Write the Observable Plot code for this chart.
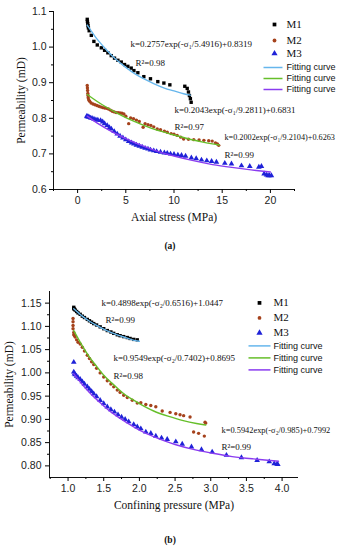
<!DOCTYPE html>
<html><head><meta charset="utf-8">
<script src="https://cdn.jsdelivr.net/npm/d3@7"></script>
<script src="https://cdn.jsdelivr.net/npm/@observablehq/plot@0.6"></script>
<style>
body{margin:0;background:#fff;}
#wrap{position:relative;width:342px;height:550px;overflow:hidden;background:#fff;}
#pa{position:absolute;left:0;top:0;}
#pb{position:absolute;left:0;top:262px;}
.cap{position:absolute;left:0;width:340px;text-align:center;font:bold 9.5px "Liberation Serif","Times New Roman",serif;color:#111;}
</style></head><body>
<div id="wrap">
  <div id="pa"></div>
  <div class="cap" style="top:241px">(a)</div>
  <div id="pb"></div>
  <div class="cap" style="top:535px">(b)</div>
</div>
<script>
// ---------- labels ----------
const seriesNames = ["M1", "M2", "M3"];
const fitName = "Fitting curve";
const yLabel = "Permeability (mD)";
const xLabelA = "Axial stress (MPa)";
const xLabelB = "Confining pressure (MPa)";
const notesA = ["k=0.2757exp(-σ₁/5.4916)+0.8319", "R²=0.98", "k=0.2043exp(-σ₁/9.2811)+0.6831", "R²=0.97", "k=0.2002exp(-σ₁/9.2104)+0.6263", "R²=0.99"];
const notesB = ["k=0.4898exp(-σ₂/0.6516)+1.0447", "R²=0.99", "k=0.9549exp(-σ₂/0.7402)+0.8695", "R²=0.98", "k=0.5942exp(-σ₂/0.985)+0.7992", "R²=0.99"];

// ---------- ticks ----------
const xTicksA = [0, 5, 10, 15, 20];
const xMinorA = [-2.5, 2.5, 7.5, 12.5, 17.5, 22.5];
const yTicksA = [0.6, 0.7, 0.8, 0.9, 1.0, 1.1];
const yMinorA = [0.65, 0.75, 0.85, 0.95, 1.05];
const xTicksB = [1.0, 1.5, 2.0, 2.5, 3.0, 3.5, 4.0];
const xMinorB = [0.75, 1.25, 1.75, 2.25, 2.75, 3.25, 3.75];
const yTicksB = [0.80, 0.85, 0.90, 0.95, 1.00, 1.05, 1.10, 1.15];
const yMinorB = [0.825, 0.875, 0.925, 0.975, 1.025, 1.075, 1.125];

// ---------- panel (a): axial stress ----------
const aM1x = [1.0, 1.02, 1.05, 1.08, 1.12, 1.2, 1.42, 1.69, 2.04, 2.46, 2.80, 3.14, 3.49, 3.83, 4.18, 4.53, 4.87, 5.21, 5.56, 5.84, 6.25, 6.87, 7.56, 8.32, 8.95, 9.57, 11.12, 11.37, 11.5, 11.6, 11.7, 11.78];
const aM1y = [1.078, 1.072, 1.066, 1.060, 1.054, 1.046, 1.033, 1.016, 1.006, 0.998, 0.991, 0.984, 0.976, 0.969, 0.963, 0.958, 0.951, 0.946, 0.941, 0.934, 0.928, 0.917, 0.911, 0.903, 0.899, 0.894, 0.890, 0.884, 0.874, 0.864, 0.855, 0.845];
const aM2x = [1.0, 1.02, 1.04, 1.06, 1.08, 1.1, 1.15, 1.25, 1.4, 1.6, 1.8, 2.0, 2.2, 2.4, 2.6, 2.8, 3.0, 3.2, 3.4, 3.6, 3.8, 4.0, 4.2, 4.4, 4.6, 4.8, 5.0, 5.3, 5.5, 5.8, 6.1, 6.4, 6.8, 7.0, 7.3, 7.6, 7.9, 8.26, 8.6, 9.0, 9.3, 9.7, 10.0, 10.33, 10.7, 11.0, 11.5, 12.05, 12.6, 13.1, 13.6, 13.96, 14.3, 14.5, 14.64];
const aM2y = [0.892, 0.885, 0.878, 0.870, 0.864, 0.858, 0.852, 0.848, 0.843, 0.840, 0.838, 0.836, 0.834, 0.832, 0.830, 0.829, 0.828, 0.826, 0.823, 0.820, 0.818, 0.816, 0.816, 0.815, 0.814, 0.812, 0.806, 0.785, 0.801, 0.799, 0.795, 0.791, 0.775, 0.785, 0.782, 0.780, 0.776, 0.770, 0.768, 0.764, 0.761, 0.757, 0.755, 0.752, 0.747, 0.742, 0.741, 0.740, 0.739, 0.738, 0.737, 0.736, 0.731, 0.728, 0.724];
const aM3x = [0.95, 1.0, 1.1, 1.2, 1.35, 1.5, 1.7, 1.9, 2.1, 2.38, 2.6, 2.8, 3.07, 3.3, 3.5, 3.8, 4.11, 4.4, 4.7, 5.0, 5.3, 5.6, 5.84, 6.1, 6.4, 6.7, 7.0, 7.3, 7.56, 7.9, 8.2, 8.6, 9.0, 9.3, 9.64, 10.0, 10.4, 10.78, 11.2, 11.8, 12.3, 12.85, 13.4, 13.9, 14.4, 15.27, 15.96, 17.0, 17.86, 18.8, 19.07, 19.35, 19.6, 19.76, 19.9, 20.1];
const aM3y = [0.806, 0.805, 0.804, 0.803, 0.801, 0.800, 0.798, 0.796, 0.795, 0.794, 0.790, 0.785, 0.780, 0.774, 0.770, 0.763, 0.756, 0.750, 0.745, 0.740, 0.735, 0.731, 0.728, 0.725, 0.722, 0.719, 0.716, 0.714, 0.711, 0.709, 0.707, 0.705, 0.703, 0.702, 0.700, 0.699, 0.697, 0.696, 0.694, 0.689, 0.687, 0.683, 0.681, 0.679, 0.677, 0.674, 0.672, 0.667, 0.665, 0.663, 0.665, 0.644, 0.641, 0.639, 0.639, 0.639];
const aFit1x = [1.0, 1.5, 2, 3, 4, 5, 6, 7, 8, 9, 10, 11, 11.7];
const aFit1y = [1.062, 1.042, 1.023, 0.992, 0.965, 0.943, 0.924, 0.909, 0.896, 0.885, 0.877, 0.869, 0.865];
const aFit2x = [1, 2, 3, 4, 5, 6, 7, 8, 9, 10, 11, 12, 13, 14, 14.7];
const aFit2y = [0.867, 0.848, 0.831, 0.816, 0.802, 0.790, 0.779, 0.769, 0.761, 0.753, 0.746, 0.739, 0.733, 0.728, 0.725];
const aFit3x = [1, 2, 3, 4, 5, 6, 8, 10, 12, 14, 16, 18, 20];
const aFit3y = [0.806, 0.787, 0.771, 0.756, 0.743, 0.731, 0.710, 0.694, 0.681, 0.670, 0.662, 0.655, 0.649];

// ---------- panel (b): confining pressure ----------
const bM1x = [1.08, 1.08, 1.09, 1.10, 1.12, 1.14, 1.17, 1.20, 1.23, 1.27, 1.30, 1.33, 1.36, 1.40, 1.45, 1.50, 1.55, 1.60, 1.64, 1.69, 1.73, 1.78, 1.83, 1.87, 1.92, 1.97];
const bM1y = [1.141, 1.138, 1.137, 1.135, 1.132, 1.129, 1.126, 1.122, 1.119, 1.115, 1.112, 1.109, 1.106, 1.103, 1.099, 1.095, 1.091, 1.088, 1.085, 1.082, 1.080, 1.078, 1.076, 1.074, 1.072, 1.071];
const bM2x = [1.07, 1.07, 1.07, 1.07, 1.08, 1.08, 1.09, 1.10, 1.12, 1.14, 1.17, 1.20, 1.23, 1.27, 1.30, 1.33, 1.36, 1.40, 1.45, 1.50, 1.55, 1.60, 1.64, 1.69, 1.73, 1.78, 1.83, 1.90, 1.97, 2.02, 2.09, 2.16, 2.23, 2.32, 2.43, 2.51, 2.57, 2.62, 2.71, 2.76, 2.83, 2.91, 2.92, 2.93];
const bM2y = [1.117, 1.110, 1.102, 1.095, 1.087, 1.082, 1.080, 1.077, 1.071, 1.066, 1.062, 1.055, 1.047, 1.038, 1.031, 1.024, 1.018, 1.010, 1.000, 0.991, 0.983, 0.976, 0.970, 0.963, 0.958, 0.952, 0.947, 0.941, 0.935, 0.936, 0.932, 0.930, 0.927, 0.918, 0.915, 0.912, 0.910, 0.908, 0.905, 0.873, 0.870, 0.864, 0.894, 0.892];
const bM3x = [1.08, 1.08, 1.09, 1.10, 1.12, 1.14, 1.17, 1.20, 1.23, 1.27, 1.30, 1.33, 1.36, 1.40, 1.45, 1.50, 1.55, 1.60, 1.65, 1.70, 1.75, 1.80, 1.85, 1.92, 1.97, 2.02, 2.09, 2.16, 2.23, 2.31, 2.39, 2.51, 2.60, 2.73, 2.87, 3.02, 3.22, 3.43, 3.65, 3.82, 3.89, 3.93, 3.94];
const bM3y = [1.023, 1.002, 0.998, 0.996, 0.993, 0.990, 0.986, 0.981, 0.976, 0.970, 0.965, 0.960, 0.955, 0.949, 0.941, 0.934, 0.927, 0.921, 0.916, 0.910, 0.905, 0.900, 0.895, 0.889, 0.884, 0.880, 0.873, 0.870, 0.864, 0.860, 0.857, 0.852, 0.847, 0.841, 0.835, 0.830, 0.823, 0.818, 0.812, 0.809, 0.805, 0.804, 0.803];
const bFit1x = [1.08, 1.2, 1.3, 1.4, 1.5, 1.6, 1.7, 1.8, 1.9, 2.0];
const bFit1y = [1.138, 1.122, 1.111, 1.102, 1.094, 1.087, 1.081, 1.076, 1.071, 1.068];
const bFit2x = [1.08, 1.2, 1.3, 1.4, 1.5, 1.6, 1.7, 1.8, 1.9, 2.0, 2.2, 2.4, 2.6, 2.8, 2.93];
const bFit2y = [1.091, 1.058, 1.034, 1.014, 0.995, 0.980, 0.966, 0.953, 0.943, 0.934, 0.918, 0.907, 0.898, 0.891, 0.888];
const bFit3x = [1.08, 1.2, 1.3, 1.4, 1.5, 1.6, 1.8, 2.0, 2.2, 2.5, 2.8, 3.0, 3.3, 3.6, 3.95];
const bFit3y = [0.998, 0.975, 0.958, 0.943, 0.929, 0.916, 0.895, 0.877, 0.863, 0.846, 0.834, 0.828, 0.820, 0.815, 0.810];

// ---------- styling ----------
const dotColors = ["#000000", "#a5421c", "#1f22d8"];
const dotSymbols = ["square", "circle", "triangle"];
const dotR = [1.9, 1.7, 2.1];
const fitColors = ["#66b6ec", "#66bf2a", "#8a3cf0"];
const serif = "'Liberation Serif','Times New Roman',serif";
const sans = "'Liberation Sans',Arial,sans-serif";

const zip = (xs, ys) => xs.map((x, i) => ({x, y: ys[i]}));
const lineSym = (hw) => ({draw(ctx) { ctx.moveTo(-hw, 0); ctx.lineTo(hw, 0); }});

function panel(o) {
  const marks = [
    Plot.ruleX([o.xDomain[0]], {stroke: "#111", strokeWidth: 1}),
    Plot.ruleY([o.yDomain[0]], {stroke: "#111", strokeWidth: 1}),
    Plot.axisX({ticks: o.xTicks, tickSize: 4, tickPadding: 3, tickFormat: o.fx, label: null, fontSize: 10.5, fill: "#222"}),
    Plot.axisX({ticks: o.xMinor, tickSize: 2, tickFormat: () => "", label: null}),
    Plot.axisY({ticks: o.yTicks, tickSize: 4, tickPadding: o.yPad, tickFormat: o.fy, label: null, fontSize: 10.5, fill: "#222"}),
    Plot.axisY({ticks: o.yMinor, tickSize: 2, tickFormat: () => "", label: null})
  ];
  o.series.forEach((s, i) => {
    marks.push(Plot.dot(s, {x: "x", y: "y", symbol: dotSymbols[i], r: dotR[i], fill: dotColors[i], stroke: "none"}));
  });
  o.fits.forEach((f, i) => {
    marks.push(Plot.line(f, {x: "x", y: "y", stroke: fitColors[i], strokeWidth: 1.4, curve: "natural"}));
  });
  // annotations
  o.notes.forEach((t, i) => {
    const p = o.notePos[i];
    marks.push(Plot.text([t], {text: d => d, frameAnchor: "top-left", dx: p[0], dy: p[1], textAnchor: "start", lineAnchor: "middle", fontFamily: serif, fontSize: p[2] || 9, fill: "#111"}));
  });
  // legend
  seriesNames.forEach((n, i) => {
    const L = o.leg;
    marks.push(Plot.dot([0], {frameAnchor: "top-right", dx: L.mx, dy: L.sy[i], symbol: dotSymbols[i], r: dotR[i] + 0.2, fill: dotColors[i], stroke: "none"}));
    marks.push(Plot.text([n], {text: d => d, frameAnchor: "top-right", dx: L.tx, dy: L.sy[i], textAnchor: "start", lineAnchor: "middle", fontFamily: serif, fontSize: 11, fill: "#111"}));
    marks.push(Plot.dot([0], {frameAnchor: "top-right", dx: L.lx, dy: L.fy[i], symbol: lineSym(L.hw), r: 3, fill: "none", stroke: fitColors[i], strokeWidth: 1.5}));
    marks.push(Plot.text([fitName], {text: d => d, frameAnchor: "top-right", dx: L.tx, dy: L.fy[i], textAnchor: "start", lineAnchor: "middle", fontFamily: sans, fontSize: 9, fill: "#111"}));
  });
  // axis titles
  marks.push(Plot.text([o.xLabel], {text: d => d, frameAnchor: "bottom", dy: 28, lineAnchor: "middle", fontFamily: serif, fontSize: 11.5, fill: "#111"}));
  marks.push(Plot.text([yLabel], {text: d => d, frameAnchor: "left", dx: o.yLabDx, rotate: -90, lineAnchor: "middle", textAnchor: "middle", fontFamily: serif, fontSize: 11.5, fill: "#111"}));

  return Plot.plot({
    width: 342, height: o.height,
    marginLeft: o.ml, marginRight: o.mr, marginTop: o.mt, marginBottom: o.mb,
    style: {fontFamily: sans, fontSize: "10px", background: "white", overflow: "visible"},
    x: {domain: o.xDomain, axis: null},
    y: {domain: o.yDomain, axis: null},
    marks
  });
}

const svgA = panel({
  height: 232, ml: 53, mr: 48, mt: 11, mb: 43,
  xDomain: [-2.5, 22.5], yDomain: [0.6, 1.1],
  xTicks: xTicksA, xMinor: xMinorA, yTicks: yTicksA, yMinor: yMinorA,
  fx: d3.format("d"), fy: d3.format(".1f"), yPad: 3,
  xLabel: xLabelA, yLabDx: -32,
  series: [zip(aM1x, aM1y), zip(aM2x, aM2y), zip(aM3x, aM3y)],
  fits: [zip(aFit1x, aFit1y), zip(aFit2x, aFit2y), zip(aFit3x, aFit3y)],
  notes: notesA,
  notePos: [[77, 33], [82, 52], [121, 99], [121, 116], [171, 126, 8.2], [171, 144]],
  leg: {mx: -20, tx: -8, lx: -21.5, hw: 9.5, sy: [13, 29, 42], fy: [56, 67, 78]}
});
document.getElementById("pa").appendChild(svgA);

const svgB = panel({
  height: 258, ml: 49, mr: 44, mt: 29, mb: 43,
  xDomain: [0.74, 4.23], yDomain: [0.775, 1.175],
  xTicks: xTicksB, xMinor: xMinorB, yTicks: yTicksB, yMinor: yMinorB,
  fx: d3.format(".1f"), fy: d3.format(".2f"), yPad: 4,
  xLabel: xLabelB, yLabDx: -40,
  series: [zip(bM1x, bM1y), zip(bM2x, bM2y), zip(bM3x, bM3y)],
  fits: [zip(bFit1x, bFit1y), zip(bFit2x, bFit2y), zip(bFit3x, bFit3y)],
  notes: notesB,
  notePos: [[52, 11.4], [56, 28.7], [64, 67], [64, 84.7], [172, 138.4, 8.4], [172, 156]],
  leg: {mx: -39, tx: -25, lx: -39, hw: 11, sy: [11.4, 26.4, 41.4], fy: [54.4, 66.4, 78.4]}
});
document.getElementById("pb").appendChild(svgB);
</script>
</body></html>
